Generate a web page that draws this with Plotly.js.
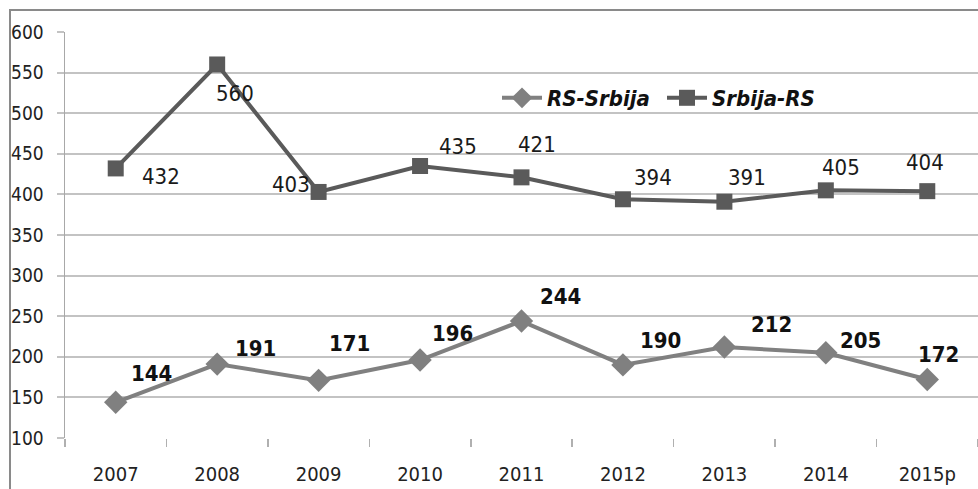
<!DOCTYPE html>
<html>
<head>
<meta charset="utf-8">
<script src="https://cdn.plot.ly/plotly-3.0.1.min.js"></script>
<style>
html,body{margin:0;padding:0;background:#fff;}
#wrap{position:relative;width:978px;height:489px;overflow:hidden;}
#chart{width:978px;height:489px;}
#frame{position:absolute;left:9px;top:9px;width:990px;height:500px;border:2px solid #8a8a8a;pointer-events:none;}
</style>
</head>
<body>
<div id="wrap"><div id="chart"></div><div id="frame"></div></div>
<script>
// ---- data ----
var years = ["2007","2008","2009","2010","2011","2012","2013","2014","2015p"];
var rsSrbija = [144,191,171,196,244,190,212,205,172];
var srbijaRs = [432,560,403,435,421,394,391,405,404];
var seriesNames = ["RS-Srbija","Srbija-RS"];
var yTicks = [100,150,200,250,300,350,400,450,500,550,600];

// ---- label offsets (pixels, style only) ----
var rsOffX = [36,38,31,32,39,38,47,35,11];
var rsOffY = [29,16,37,27,25,24,23,12,25];
var srOffX = [45,18,-28,38,15,30,23,15,-2];
var srOffY = [-8,-29,7,19,33,22,24,23,29];

var FONT = "'DejaVu Sans Condensed','Liberation Sans Narrow','Arial Narrow',sans-serif";

var traces = [
  {
    x: years, y: rsSrbija, name: seriesNames[0], type: "scatter", mode: "lines+markers",
    line: {color: "#808080", width: 4},
    marker: {symbol: "diamond", size: 18, color: "#808080"}
  },
  {
    x: years, y: srbijaRs, name: seriesNames[1], type: "scatter", mode: "lines+markers",
    line: {color: "#5a5a5a", width: 4},
    marker: {symbol: "square", size: 16, color: "#5a5a5a"}
  }
];

var annotations = [];
years.forEach(function(yr, i){
  annotations.push({
    x: i, y: rsSrbija[i], text: String(rsSrbija[i]), showarrow: false,
    xshift: rsOffX[i], yshift: rsOffY[i],
    font: {family: FONT, size: 22, color: "#111", weight: "bold"}
  });
  annotations.push({
    x: i, y: srbijaRs[i], text: String(srbijaRs[i]), showarrow: false,
    xshift: srOffX[i], yshift: srOffY[i],
    font: {family: FONT, size: 22, color: "#1a1a1a"}
  });
});

var L = 65, T = 32, W = 913, H = 406;
function px2x(p){ return (p - L) / W; }
function px2y(p){ return (T + H - p) / H; }

var layout = {
  width: 978, height: 489,
  margin: {l: L, r: 0, t: T, b: 489 - T - H},
  paper_bgcolor: "#fff", plot_bgcolor: "#fff",
  showlegend: true,
  legend: {
    orientation: "h", x: px2x(497), xanchor: "left", y: px2y(98), yanchor: "middle",
    font: {family: FONT, size: 22, color: "#111", weight: "bold", style: "italic"},
    bgcolor: "rgba(0,0,0,0)", itemwidth: 40, entrywidth: 110, entrywidthmode: "pixels"
  },
  xaxis: {
    type: "category", range: [-0.5, 8.5], showgrid: false,
    ticks: "outside", tickson: "boundaries", ticklen: 8, tickwidth: 1.5, tickcolor: "#b0b0b0",
    showline: false, zeroline: false, ticklabelstandoff: 22,
    tickfont: {family: FONT, size: 20, color: "#222"}
  },
  yaxis: {
    range: [100, 600], tickvals: yTicks, showgrid: true, gridcolor: "#c3c3c3", gridwidth: 2,
    ticks: "outside", ticklen: 7, tickwidth: 2, tickcolor: "#c3c3c3",
    showline: true, linecolor: "#a8a8a8", linewidth: 1.5, zeroline: false,
    ticklabelstandoff: 9,
    tickfont: {family: FONT, size: 19, color: "#222"}
  },
  annotations: annotations
};

Plotly.newPlot("chart", traces, layout, {displayModeBar: false, staticPlot: true});
</script>
</body>
</html>
